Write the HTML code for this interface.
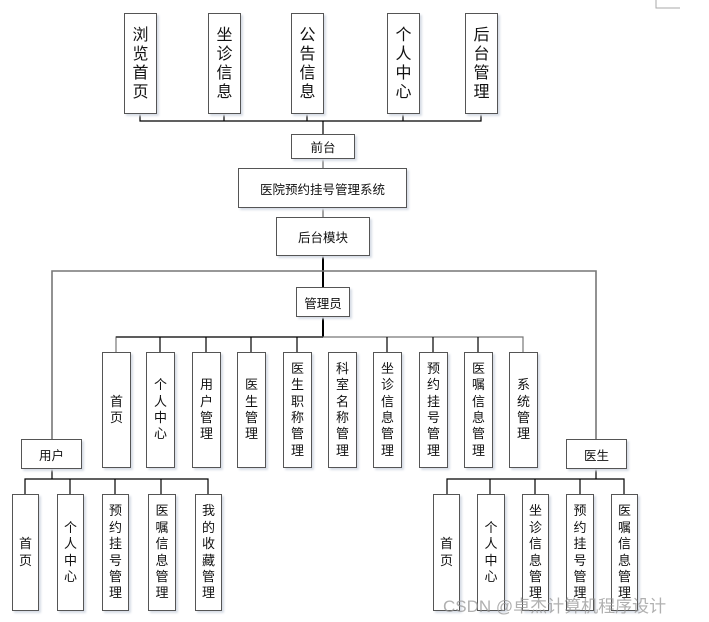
<!DOCTYPE html>
<html><head><meta charset="utf-8"><style>
body{margin:0;width:709px;height:622px;background:#fff;position:relative;overflow:hidden;font-family:"Liberation Sans","Noto Sans CJK SC",sans-serif;color:#111}
.b{position:absolute;box-sizing:border-box;border:1.4px solid #555;background:#fff;box-shadow:2px 2px 2px #d8dde6;display:flex;align-items:center;justify-content:center;font-size:12.5px}
.v{flex-direction:column;font-size:13px;line-height:16.4px;text-align:center}
.t{font-size:16px;line-height:19px}
svg{position:absolute;left:0;top:0}
</style></head><body>
<svg width="709" height="622">
<g stroke="#000" stroke-width="1.2" fill="none">
<path d="M140 114V121H481V114M224 114V121M307 114V121M403 114V121M323 121V134"/>
<path d="M323 159V168M323 208V217" stroke="#666"/>
<path d="M323 256V287" stroke-width="2"/>
<path d="M52 439V271H596V439" stroke="#777" stroke-width="1.6"/>
<path d="M323 317V337" stroke-width="2"/>
<path d="M116 352V337H523V352" stroke="#777"/>
<path d="M116 337H323" stroke="#333" stroke-width="1.5"/>
<path d="M160 337V352M206 337V352M251 337V352M297 337V352M387 337V352M433 337V352M478 337V352"/>
<path d="M52 469V479M25 494V479H208V494M70 479V494M115 479V494M161 479V494"/>
<path d="M596 469V479M447 494V479H624V494M490 479V494M535 479V494M580 479V494"/>
<path d="M656 0V8H680" stroke="#aaa" stroke-width="1"/>
</g></svg>
<div class="b v t" style="left:124px;top:13px;width:33px;height:101px">浏<br>览<br>首<br>页</div>
<div class="b v t" style="left:208px;top:13px;width:33px;height:101px">坐<br>诊<br>信<br>息</div>
<div class="b v t" style="left:291px;top:13px;width:33px;height:101px">公<br>告<br>信<br>息</div>
<div class="b v t" style="left:387px;top:13px;width:33px;height:101px">个<br>人<br>中<br>心</div>
<div class="b v t" style="left:465px;top:13px;width:33px;height:101px">后<br>台<br>管<br>理</div>
<div class="b" style="left:291px;top:134px;width:64px;height:25px">前台</div>
<div class="b" style="left:238px;top:168px;width:169px;height:40px">医院预约挂号管理系统</div>
<div class="b" style="left:276px;top:217px;width:94px;height:39px">后台模块</div>
<div class="b" style="left:296px;top:287px;width:54px;height:30px">管理员</div>
<div class="b v" style="left:102px;top:352px;width:29px;height:116px">首<br>页</div>
<div class="b v" style="left:146px;top:352px;width:29px;height:116px">个<br>人<br>中<br>心</div>
<div class="b v" style="left:192px;top:352px;width:29px;height:116px">用<br>户<br>管<br>理</div>
<div class="b v" style="left:237px;top:352px;width:29px;height:116px">医<br>生<br>管<br>理</div>
<div class="b v" style="left:283px;top:352px;width:29px;height:116px">医<br>生<br>职<br>称<br>管<br>理</div>
<div class="b v" style="left:328px;top:352px;width:29px;height:116px">科<br>室<br>名<br>称<br>管<br>理</div>
<div class="b v" style="left:373px;top:352px;width:29px;height:116px">坐<br>诊<br>信<br>息<br>管<br>理</div>
<div class="b v" style="left:419px;top:352px;width:29px;height:116px">预<br>约<br>挂<br>号<br>管<br>理</div>
<div class="b v" style="left:464px;top:352px;width:29px;height:116px">医<br>嘱<br>信<br>息<br>管<br>理</div>
<div class="b v" style="left:509px;top:352px;width:29px;height:116px">系<br>统<br>管<br>理</div>
<div class="b" style="left:21px;top:439px;width:61px;height:30px">用户</div>
<div class="b" style="left:566px;top:439px;width:61px;height:30px">医生</div>
<div class="b v" style="left:12px;top:494px;width:27px;height:117px">首<br>页</div>
<div class="b v" style="left:57px;top:494px;width:27px;height:117px">个<br>人<br>中<br>心</div>
<div class="b v" style="left:102px;top:494px;width:27px;height:117px">预<br>约<br>挂<br>号<br>管<br>理</div>
<div class="b v" style="left:148px;top:494px;width:28px;height:117px">医<br>嘱<br>信<br>息<br>管<br>理</div>
<div class="b v" style="left:195px;top:494px;width:27px;height:117px">我<br>的<br>收<br>藏<br>管<br>理</div>
<div class="b v" style="left:433px;top:494px;width:27px;height:117px">首<br>页</div>
<div class="b v" style="left:477px;top:494px;width:28px;height:117px">个<br>人<br>中<br>心</div>
<div class="b v" style="left:522px;top:494px;width:27px;height:117px">坐<br>诊<br>信<br>息<br>管<br>理</div>
<div class="b v" style="left:566px;top:494px;width:28px;height:117px">预<br>约<br>挂<br>号<br>管<br>理</div>
<div class="b v" style="left:611px;top:494px;width:27px;height:117px">医<br>嘱<br>信<br>息<br>管<br>理</div>
<div style="position:absolute;left:443px;top:592px;font-size:17px;color:rgba(150,150,150,0.75);white-space:nowrap">CSDN @卓杰计算机程序设计</div>
</body></html>
